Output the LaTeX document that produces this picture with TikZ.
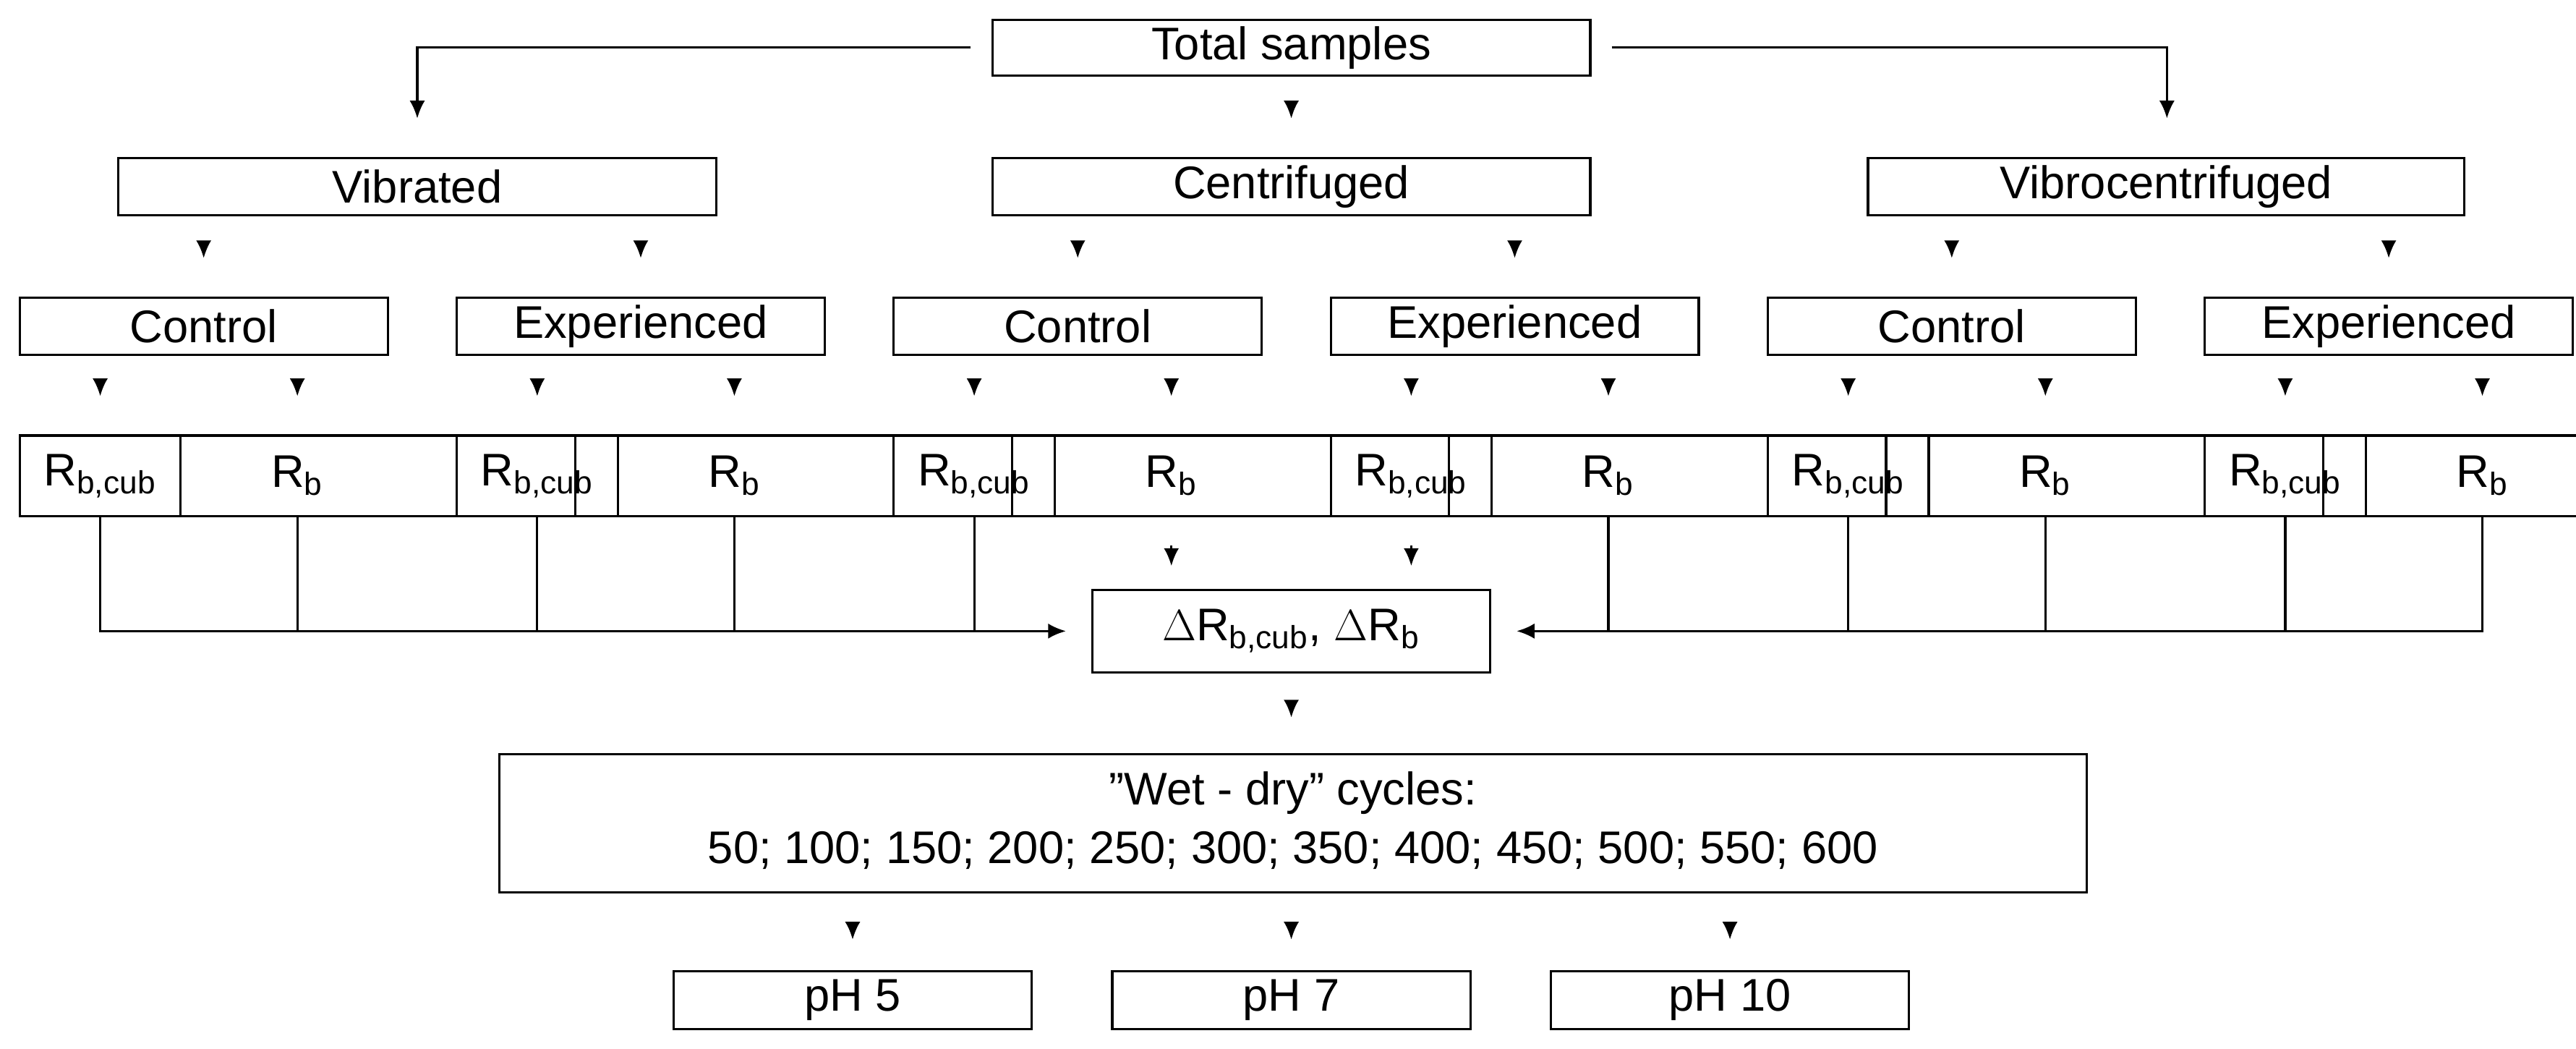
\documentclass[tikz,border=0pt]{standalone}
\usepackage{fontspec}
\setmainfont{Liberation Sans}
\usetikzlibrary{arrows.meta}
\tikzset{x=0.02272cm,y=-0.02272cm,
 box/.style={draw,line width=0.9pt,inner sep=0pt,font=\fontsize{18}{21}\selectfont},
 arr/.style={line width=0.9pt,-{Latex[length=7pt,width=6pt]}},
 ln/.style={line width=0.9pt}}
\newcommand\mybox[6]{\node[box,minimum width={(#4-#2)*0.02272cm},minimum height={(#5-#3)*0.02272cm}] (#1) at ({(#2+#4)/2},{(#3+#5)/2}) {#6};}
\newcommand\rbc{R\textsubscript{b,cub}}
\newcommand\rbb{R\textsubscript{b}}
\begin{document}
\begin{tikzpicture}
\useasboundingbox (0,0) rectangle (1568,638);
\mybox{t}{604}{12}{968}{46}{Total samples}
\mybox{v}{72}{96}{436}{131}{Vibrated}
\mybox{c}{604}{96}{968}{131}{Centrifuged}
\mybox{w}{1137}{96}{1500}{131}{Vibrocentrifuged}
\foreach \n/\a/\lab in {1/12/Control,2/278/Experienced,3/544/Control,4/810/Experienced,5/1076/Control,6/1342/Experienced}
 {\mybox{g\n}{\a}{181}{\a+224}{216}{\lab}}
\foreach \n/\a in {1/12,2/278,3/544,4/810,5/1076,6/1342}{
 \mybox{ra\n}{\a}{265}{\a+98}{314}{\rbc}
 \mybox{rb\n}{\a+120}{265}{\a+218}{314}{\rbb}}
\mybox{d}{665}{359}{907}{409}{$\Delta$\rbc, $\Delta$\rbb}
\mybox{wd}{304}{459}{1270}{543}{\begin{tabular}{c}"Wet - dry" cycles:\\[2pt]50; 100; 150; 200; 250; 300; 350; 400; 450; 500; 550; 600\end{tabular}}
\mybox{p1}{410}{591}{628}{626}{pH 5}
\mybox{p2}{677}{591}{895}{626}{pH 7}
\mybox{p3}{944}{591}{1162}{626}{pH 10}
% top
\draw[arr] ([xshift=-8pt]t.west) -| ([yshift=15pt]v.north -| 254,0);
\draw[arr] ([xshift=8pt]t.east) -| ([yshift=15pt]w.north -| 1319,0);
\draw[arr,shorten <=14pt,shorten >=15pt] (t.south) -- (c.north);
% level 2 -> 3
\foreach \p/\a/\b in {v/g1/g2,c/g3/g4,w/g5/g6}{
 \draw[arr,shorten <=12pt,shorten >=15pt] (\p.south -| \a.north) -- (\a.north);
 \draw[arr,shorten <=12pt,shorten >=15pt] (\p.south -| \b.north) -- (\b.north);}
% level 3 -> 4
\foreach \n in {1,...,6}{
 \draw[arr,shorten <=12pt,shorten >=15pt] (g\n.south -| ra\n.north) -- (ra\n.north);
 \draw[arr,shorten <=12pt,shorten >=15pt] (g\n.south -| rb\n.north) -- (rb\n.north);}
% to delta
\coordinate (yl) at (0,384);
\draw[arr] (ra1.south) |- ([xshift=-10pt]d.west);
\foreach \r in {rb1,ra2,rb2,ra3}{\draw[ln] (\r.south) -- (\r.south |- yl);}
\draw[arr] (rb6.south) |- ([xshift=10pt]d.east);
\foreach \r in {rb4,ra5,rb5,ra6}{\draw[ln] (\r.south) -- (\r.south |- yl);}
\draw[arr,shorten <=11pt,shorten >=9pt] (rb3.south) -- (rb3.south |- d.north);
\draw[arr,shorten <=11pt,shorten >=9pt] (ra4.south) -- (ra4.south |- d.north);
\draw[arr,shorten <=12pt,shorten >=14pt] (d.south) -- (d.south |- wd.north);
\foreach \p in {p1,p2,p3}{\draw[arr,shorten <=12pt,shorten >=12pt] (wd.south -| \p.north) -- (\p.north);}
\end{tikzpicture}
\end{document}
